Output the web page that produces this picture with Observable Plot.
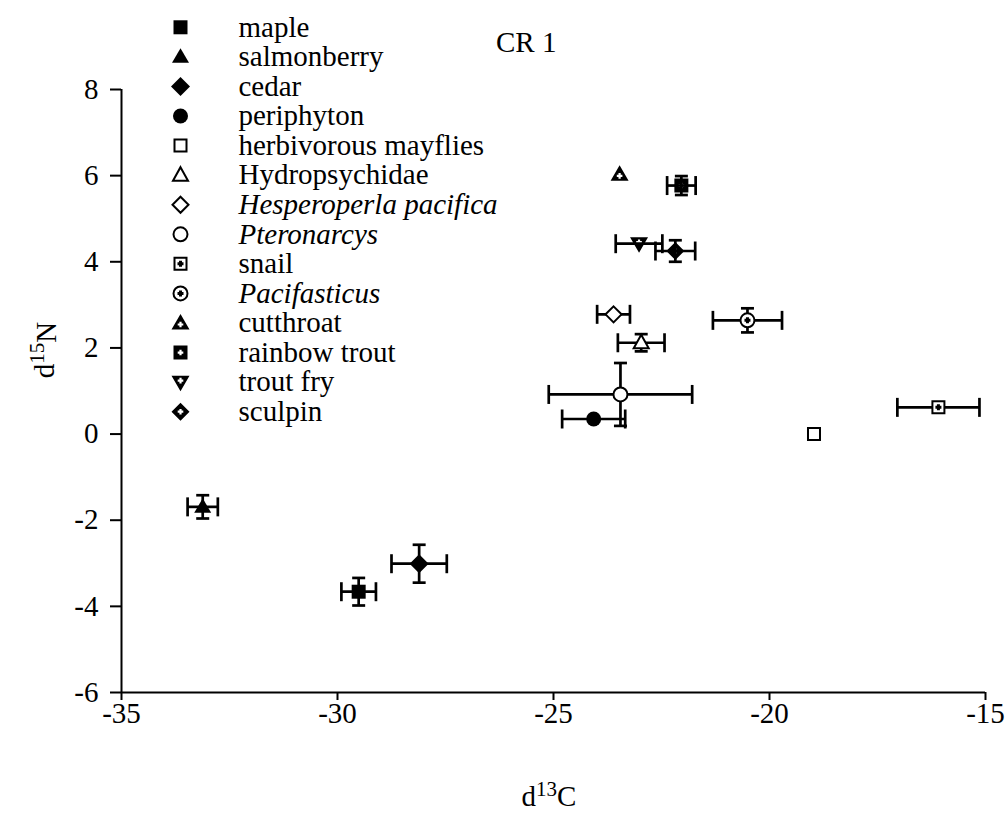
<!DOCTYPE html>
<html>
<head>
<meta charset="utf-8">
<script src="https://cdn.jsdelivr.net/npm/d3@7"></script>
<script src="https://cdn.jsdelivr.net/npm/@observablehq/plot@0.6"></script>
<style>
  html, body { margin: 0; padding: 0; background: #fff; }
  #wrap { position: relative; width: 1008px; height: 819px; overflow: hidden; }
  #legend { position: absolute; left: 160px; top: 0px; }
</style>
</head>
<body>
<div id="wrap"><div id="main"></div><div id="legend"></div></div>
<script>
// ---- data ----
const names = ["maple", "salmonberry", "cedar", "periphyton", "herbivorous mayflies",
  "Hydropsychidae", "Hesperoperla pacifica", "Pteronarcys", "snail", "Pacifasticus",
  "cutthroat", "rainbow trout", "trout fry", "sculpin"];
const d13C = [-29.51, -33.12, -28.11, -24.07, -18.97, -22.97, -23.61, -23.45, -16.09, -20.51, -23.47, -22.04, -23.02, -22.18];
const d15N = [-3.66, -1.69, -3.01, 0.35, 0.0, 2.12, 2.78, 0.92, 0.62, 2.64, 6.03, 5.77, 4.42, 4.25];
const errC = [0.40, 0.35, 0.64, 0.73, 0, 0.54, 0.38, 1.66, 0.95, 0.80, 0, 0.33, 0.54, 0.46];
const errN = [0.32, 0.27, 0.44, 0, 0, 0.20, 0, 0.73, 0, 0.28, 0, 0.22, 0, 0.25];
const italicNames = ["Hesperoperla pacifica", "Pteronarcys", "Pacifasticus"];
const openNames = ["herbivorous mayflies", "Hydropsychidae", "Hesperoperla pacifica", "Pteronarcys", "snail", "Pacifasticus"];
const xTicks = [-35, -30, -25, -20, -15];
const yTicks = [-6, -4, -2, 0, 2, 4, 6, 8];

const data = names.map((n, i) => ({name: n, x: d13C[i], y: d15N[i], ex: errC[i], ey: errN[i]}));

// ---- symbol shapes ----
function poly(ctx, pts) { ctx.moveTo(pts[0][0], pts[0][1]); for (let i = 1; i < pts.length; i++) ctx.lineTo(pts[i][0], pts[i][1]); ctx.closePath(); }
function plusPts(a, t, oy = 0) {
  return [[-t,-a],[t,-a],[t,-t],[a,-t],[a,t],[t,t],[t,a],[-t,a],[-t,t],[-a,t],[-a,-t],[-t,-t]].map(([x, y]) => [x, y + oy]);
}
const shapeSquare = (h) => [[-h,-h],[h,-h],[h,h],[-h,h]];
const shapeTriUp = (w, t, b) => [[0,-t],[w,b],[-w,b]];
const shapeTriDown = (w, t, b) => [[-w,-t],[w,-t],[0,b]];
const shapeDiamond = (d) => [[0,-d],[d,0],[0,d],[-d,0]];
function mk(draw) { return {draw}; }
function withHole(pts, oy = 0) { return mk(ctx => { poly(ctx, pts); poly(ctx, plusPts(2.8, 1.1, oy).reverse()); }); }
function withDot(fn) { return mk(ctx => { fn(ctx); poly(ctx, plusPts(2.0, 0.5)); }); }
const circ = (r) => (ctx) => { ctx.moveTo(r, 0); ctx.arc(0, 0, r, 0, 2 * Math.PI); };

const symbols = [
  mk(ctx => poly(ctx, shapeSquare(7))),                    // maple
  mk(ctx => poly(ctx, shapeTriUp(8.5, 8.5, 6))),           // salmonberry
  mk(ctx => poly(ctx, shapeDiamond(9.5))),                 // cedar
  mk(circ(7.5)),                                           // periphyton
  mk(ctx => poly(ctx, shapeSquare(6))),                    // herbivorous mayflies
  mk(ctx => poly(ctx, shapeTriUp(7.5, 8, 5.5))),           // Hydropsychidae
  mk(ctx => poly(ctx, shapeDiamond(8))),                   // Hesperoperla
  mk(circ(7)),                                             // Pteronarcys
  withDot(ctx => poly(ctx, shapeSquare(6))),               // snail
  withDot(circ(7)),                                        // Pacifasticus
  withHole(shapeTriUp(9, 9, 6.5), 1.5),                    // cutthroat
  withHole(shapeSquare(7)),                                // rainbow trout
  withHole(shapeTriDown(9, 6.5, 9), -1.5),                 // trout fry
  withHole(shapeDiamond(9))                                // sculpin
];
const vCap = mk(ctx => { ctx.moveTo(0, -9.5); ctx.lineTo(0, 9.5); });
const hCap = mk(ctx => { ctx.moveTo(-6.5, 0); ctx.lineTo(6.5, 0); });

const FONT = '"Liberation Serif", "Times New Roman", Times, serif';
const FS = 29;
const fmt = d => String(d);

const hasEx = data.filter(d => d.ex > 0);
const hasEy = data.filter(d => d.ey > 0);
const solid = data.filter(d => !openNames.includes(d.name));
const open = data.filter(d => openNames.includes(d.name));

const chart = Plot.plot({
  width: 1008, height: 819,
  marginLeft: 121, marginRight: 23, marginTop: 89, marginBottom: 127,
  style: {fontFamily: FONT, fontSize: FS + "px", background: "transparent", color: "black"},
  x: {domain: [-35, -15]},
  y: {domain: [-6, 8]},
  symbol: {domain: names, range: symbols},
  marks: [
    Plot.axisX({ticks: xTicks, tickFormat: fmt, tickSize: 8, tickPadding: 2, strokeWidth: 2, fontSize: FS, label: null}),
    Plot.axisY({ticks: yTicks, tickFormat: fmt, tickSize: 11, tickPadding: 12, strokeWidth: 2, fontSize: FS, label: null}),
    Plot.ruleX([-35], {strokeWidth: 2}),
    Plot.ruleY([-6], {strokeWidth: 2}),
    Plot.ruleY(hasEx, {y: "y", x1: d => d.x - d.ex, x2: d => d.x + d.ex, strokeWidth: 2.7}),
    Plot.ruleX(hasEy, {x: "x", y1: d => d.y - d.ey, y2: d => d.y + d.ey, strokeWidth: 2.7}),
    Plot.dot(hasEx, {x: d => d.x - d.ex, y: "y", symbol: vCap, fill: "none", stroke: "black", strokeWidth: 2.7}),
    Plot.dot(hasEx, {x: d => d.x + d.ex, y: "y", symbol: vCap, fill: "none", stroke: "black", strokeWidth: 2.7}),
    Plot.dot(hasEy, {x: "x", y: d => d.y - d.ey, symbol: hCap, fill: "none", stroke: "black", strokeWidth: 2.7}),
    Plot.dot(hasEy, {x: "x", y: d => d.y + d.ey, symbol: hCap, fill: "none", stroke: "black", strokeWidth: 2.7}),
    Plot.dot(solid, {x: "x", y: "y", symbol: "name", fill: "black", stroke: "none"}),
    Plot.dot(open, {x: "x", y: "y", symbol: "name", fill: "white", stroke: "black", strokeWidth: 2})
  ]
});
document.getElementById("main").appendChild(chart);

// axis titles and panel label
const svg = d3.select(chart);
const yl = svg.append("text").attr("transform", "translate(54,350) rotate(-90)")
  .attr("text-anchor", "middle").attr("font-family", FONT).attr("font-size", FS).attr("fill", "black");
yl.append("tspan").text("d");
yl.append("tspan").attr("dy", -10).attr("font-size", 21).text("15");
yl.append("tspan").attr("dy", 12).text("N");
const xl = svg.append("text").attr("x", 549).attr("y", 806)
  .attr("text-anchor", "middle").attr("font-family", FONT).attr("font-size", FS).attr("fill", "black");
xl.append("tspan").text("d");
xl.append("tspan").attr("dy", -10).attr("font-size", 21).text("13");
xl.append("tspan").attr("dy", 10).text("C");
svg.append("text").attr("x", 496).attr("y", 52).attr("text-anchor", "start")
  .attr("font-family", FONT).attr("font-size", FS).attr("fill", "black").text("CR 1");

// ---- legend ----
const legendSolid = names.filter(n => !openNames.includes(n));
const legendOpen = names.filter(n => openNames.includes(n));
const legend = Plot.plot({
  width: 380, height: 430,
  marginTop: 12, marginBottom: 4, marginLeft: 0, marginRight: 0,
  style: {fontFamily: FONT, fontSize: FS + "px", background: "transparent", color: "black"},
  x: {domain: [0, 1], axis: null},
  y: {type: "band", domain: names, padding: 0, round: false, axis: null},
  symbol: {domain: names, range: symbols},
  marks: [
    Plot.dot(legendSolid, {y: d => d, symbol: d => d, frameAnchor: "left", dx: 20, fill: "black", stroke: "none"}),
    Plot.dot(legendOpen, {y: d => d, symbol: d => d, frameAnchor: "left", dx: 20, fill: "white", stroke: "black", strokeWidth: 2}),
    Plot.text(names.filter(n => !italicNames.includes(n)), {y: d => d, text: d => d, frameAnchor: "left", dx: 78, textAnchor: "start", fontSize: FS, fill: "black"}),
    Plot.text(italicNames, {y: d => d, text: d => d, frameAnchor: "left", dx: 78, textAnchor: "start", fontSize: FS, fontStyle: "italic", fill: "black"})
  ]
});
document.getElementById("legend").appendChild(legend);
</script>
</body>
</html>
